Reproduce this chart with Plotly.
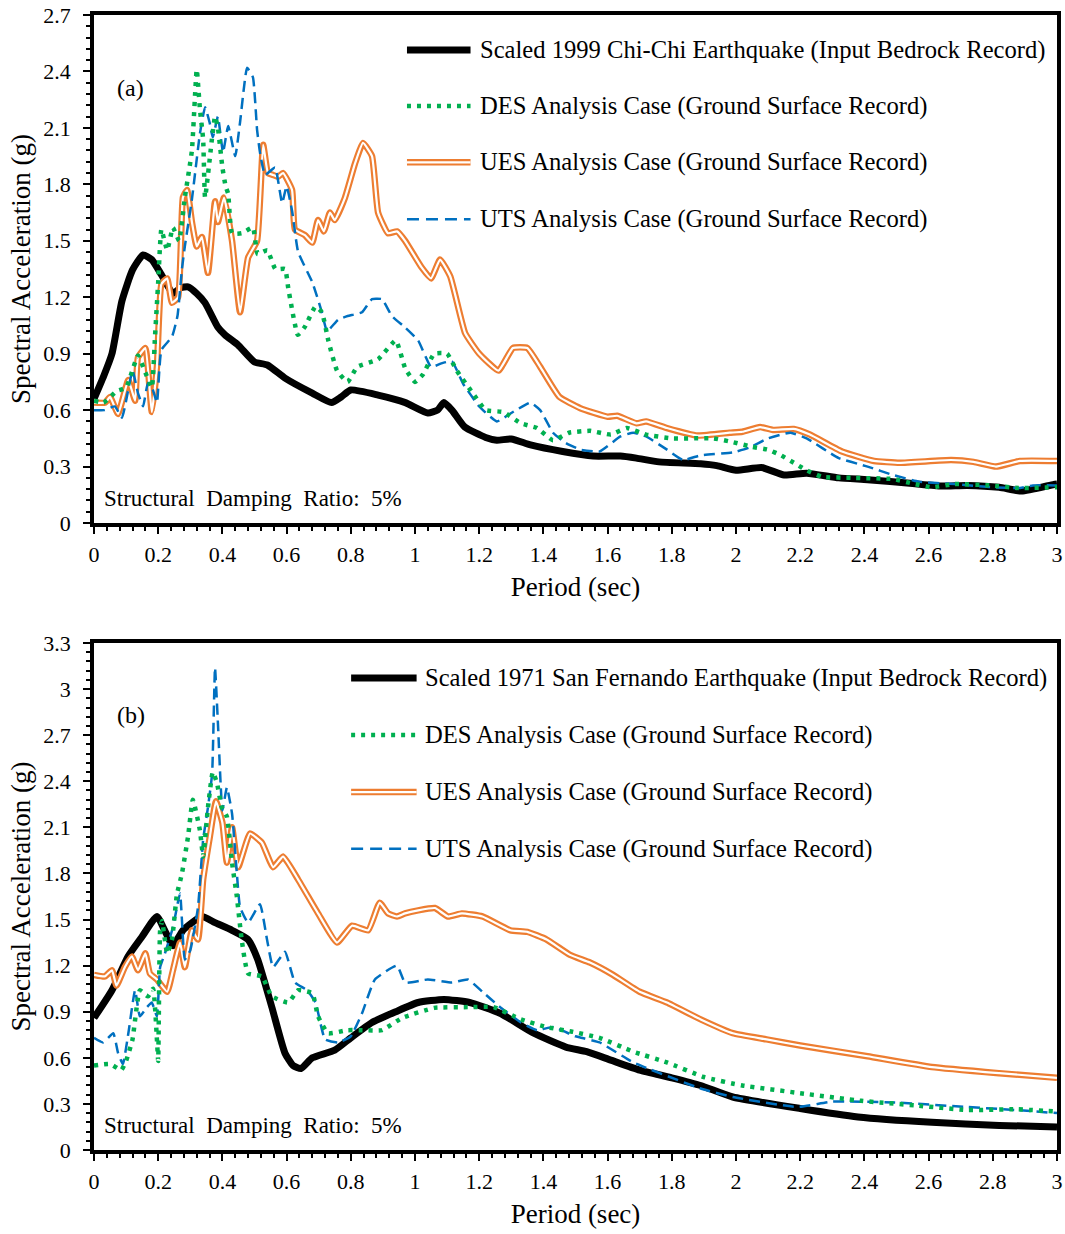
import plotly.graph_objects as go

# ---------------- (a) 1999 Chi-Chi ----------------
chichi_T = [0.0, 0.03, 0.056, 0.087, 0.12, 0.153, 0.18, 0.21, 0.246, 0.27, 0.293, 0.32, 0.346, 0.386,
            0.408, 0.449, 0.50, 0.54, 0.595, 0.68, 0.74, 0.77, 0.80, 0.885, 0.97, 1.04, 1.07, 1.09,
            1.115, 1.155, 1.22, 1.255, 1.30, 1.36, 1.46, 1.555, 1.64, 1.69, 1.76, 1.89, 1.94, 2.0,
            2.08, 2.15, 2.22, 2.32, 2.41, 2.55, 2.64, 2.72, 2.82, 2.89, 2.99, 3.0]
chichi_input = [0.66, 0.78, 0.90, 1.18, 1.345, 1.425, 1.40, 1.32, 1.22, 1.25, 1.255, 1.22, 1.17, 1.04,
                1.00, 0.946, 0.856, 0.84, 0.77, 0.69, 0.64, 0.67, 0.707, 0.68, 0.64, 0.585, 0.60, 0.64,
                0.60, 0.51, 0.455, 0.44, 0.447, 0.415, 0.38, 0.356, 0.356, 0.345, 0.325, 0.315, 0.305, 0.28,
                0.295, 0.255, 0.265, 0.24, 0.23, 0.21, 0.197, 0.20, 0.19, 0.17, 0.205, 0.207]

chichi_des_T = [0.0, 0.03, 0.07, 0.1, 0.137, 0.16, 0.18, 0.19, 0.2, 0.21, 0.228, 0.246, 0.265, 0.283,
                0.305, 0.32, 0.33, 0.34, 0.346, 0.368, 0.377, 0.386, 0.40, 0.41, 0.418, 0.43, 0.46,
                0.495, 0.51, 0.54, 0.565, 0.595, 0.605, 0.635, 0.656, 0.69, 0.71, 0.73, 0.757, 0.79,
                0.82, 0.885, 0.94, 0.97, 1.0, 1.025, 1.06, 1.1, 1.13, 1.18, 1.22, 1.275, 1.33, 1.38,
                1.43, 1.48, 1.545, 1.61, 1.66, 1.72, 1.80, 1.93, 1.99, 2.05, 2.10, 2.14, 2.19, 2.22,
                2.27, 2.36, 2.49, 2.55, 2.61, 2.68, 2.79, 2.88, 3.0]
chichi_des = [0.65, 0.64, 0.70, 0.72, 0.89, 0.80, 0.72, 0.99, 1.28, 1.56, 1.45, 1.57, 1.50, 1.73,
              1.98, 2.41, 2.20, 2.04, 1.73, 2.05, 2.16, 2.10, 1.89, 1.79, 1.75, 1.54, 1.54,
              1.57, 1.43, 1.45, 1.35, 1.35, 1.25, 1.00, 1.04, 1.15, 1.12, 0.97, 0.81, 0.75,
              0.83, 0.87, 0.97, 0.82, 0.75, 0.79, 0.90, 0.90, 0.81, 0.69, 0.60, 0.59, 0.53, 0.505,
              0.44, 0.48, 0.49, 0.47, 0.505, 0.47, 0.45, 0.45, 0.43, 0.405, 0.39, 0.36, 0.31, 0.28,
              0.245, 0.24, 0.234, 0.21, 0.19, 0.207, 0.20, 0.186, 0.19]

chichi_ues_T = [0.0, 0.035, 0.05, 0.075, 0.107, 0.128, 0.137, 0.16, 0.18, 0.196, 0.21, 0.228, 0.243,
                0.262, 0.277, 0.29, 0.305, 0.32, 0.336, 0.355, 0.377, 0.386, 0.405, 0.43, 0.455, 0.48,
                0.508, 0.527, 0.542, 0.558, 0.573, 0.589, 0.617, 0.626, 0.657, 0.68, 0.698, 0.716,
                0.735, 0.75, 0.782, 0.813, 0.838, 0.866, 0.885, 0.916, 0.944, 0.969, 1.02, 1.05,
                1.078, 1.11, 1.156, 1.2, 1.26, 1.305, 1.35, 1.39, 1.45, 1.515, 1.60, 1.63, 1.69, 1.72,
                1.785, 1.88, 1.98, 2.02, 2.075, 2.115, 2.18, 2.23, 2.33, 2.43, 2.51, 2.67, 2.74, 2.81,
                2.885, 3.0]
chichi_ues = [0.64, 0.64, 0.67, 0.58, 0.76, 0.65, 0.88, 0.93, 0.59, 0.83, 1.27, 1.30, 1.17,
              1.20, 1.73, 1.77, 1.60, 1.47, 1.52, 1.33, 1.71, 1.60, 1.73, 1.50, 1.12, 1.41,
              1.50, 2.01, 1.86, 1.85, 1.84, 1.86, 1.77, 1.56, 1.53, 1.49, 1.61, 1.55,
              1.65, 1.61, 1.73, 1.91, 2.02, 1.95, 1.65, 1.54, 1.55, 1.50, 1.36, 1.30,
              1.40, 1.31, 1.01, 0.90, 0.81, 0.93, 0.93, 0.83, 0.67, 0.61, 0.565, 0.57, 0.53, 0.54,
              0.505, 0.465, 0.48, 0.485, 0.51, 0.495, 0.50, 0.47, 0.38, 0.33, 0.32, 0.335, 0.325, 0.30,
              0.33, 0.33]

chichi_uts_T = [0.0, 0.033, 0.065, 0.087, 0.12, 0.137, 0.153, 0.168, 0.183, 0.196, 0.21, 0.243, 0.26,
                0.274, 0.283, 0.305, 0.33, 0.346, 0.36, 0.37, 0.386, 0.402, 0.418, 0.44, 0.455, 0.477,
                0.495, 0.508, 0.517, 0.533, 0.564, 0.586, 0.60, 0.617, 0.636, 0.68, 0.71, 0.726, 0.76,
                0.79, 0.835, 0.866, 0.897, 0.928, 0.969, 1.01, 1.05, 1.085, 1.115, 1.15, 1.2, 1.255,
                1.305, 1.36, 1.39, 1.43, 1.47, 1.515, 1.575, 1.64, 1.68, 1.72, 1.785, 1.835, 1.89,
                1.99, 2.04, 2.10, 2.17, 2.22, 2.32, 2.41, 2.49, 2.57, 2.68, 2.80, 2.885, 2.925, 3.0]
chichi_uts = [0.60, 0.60, 0.62, 0.56, 0.81, 0.69, 0.62, 0.745, 0.71, 0.64, 0.92, 0.99, 1.10,
              1.35, 1.47, 1.72, 2.07, 2.21, 2.13, 2.05, 2.16, 1.97, 2.11, 1.95, 2.13, 2.42,
              2.37, 2.09, 1.97, 1.85, 1.89, 1.70, 1.79, 1.66, 1.44, 1.28, 1.12, 1.02, 1.08,
              1.10, 1.12, 1.19, 1.19, 1.10, 1.04, 0.97, 0.83, 0.85, 0.86, 0.74, 0.62, 0.54,
              0.59, 0.64, 0.60, 0.48, 0.425, 0.39, 0.38, 0.46, 0.48, 0.46, 0.39, 0.335, 0.36,
              0.375, 0.40, 0.45, 0.48, 0.45, 0.345, 0.30, 0.255, 0.22, 0.207, 0.19, 0.186, 0.20, 0.20]

# ---------------- (b) 1971 San Fernando ----------------
sf_T = [0.0, 0.056, 0.106, 0.15, 0.196, 0.22, 0.246, 0.277, 0.336, 0.377, 0.43, 0.48, 0.51, 0.554,
        0.595, 0.62, 0.645, 0.68, 0.75, 0.80, 0.866, 0.94, 1.01, 1.09, 1.17, 1.265, 1.37, 1.47,
        1.535, 1.61, 1.70, 1.80, 1.89, 1.99, 2.2, 2.38, 2.61, 2.82, 3.0]
sf_input = [0.86, 1.04, 1.26, 1.39, 1.52, 1.43, 1.33, 1.43, 1.52, 1.48, 1.43, 1.37, 1.24, 0.93,
            0.63, 0.55, 0.53, 0.60, 0.65, 0.73, 0.83, 0.90, 0.96, 0.98, 0.96, 0.89, 0.76, 0.67,
            0.64, 0.585, 0.52, 0.47, 0.42, 0.345, 0.27, 0.215, 0.18, 0.16, 0.15]

sf_des_T = [0.0, 0.05, 0.085, 0.1, 0.12, 0.143, 0.168, 0.184, 0.196, 0.2, 0.206, 0.212, 0.228, 0.243,
            0.258, 0.274, 0.293, 0.308, 0.33, 0.34, 0.355, 0.37, 0.383, 0.398, 0.414, 0.43, 0.445,
            0.46, 0.48, 0.523, 0.554, 0.605, 0.636, 0.68, 0.698, 0.729, 0.79, 0.835, 0.897, 0.96,
            1.06, 1.165, 1.245, 1.33, 1.41, 1.49, 1.575, 1.68, 1.785, 1.9, 2.02, 2.2, 2.39, 2.56,
            2.72, 2.875, 3.0]
sf_des = [0.55, 0.56, 0.52, 0.58, 0.72, 1.04, 1.00, 1.05, 0.72, 0.58, 1.43, 1.49, 1.28, 1.37,
          1.66, 1.80, 2.04, 2.28, 2.08, 1.91, 2.23, 2.46, 2.39, 2.23, 2.17, 1.87, 1.65,
          1.37, 1.15, 1.13, 1.00, 0.96, 1.04, 1.02, 0.87, 0.76, 0.78, 0.78, 0.78, 0.86,
          0.925, 0.93, 0.93, 0.85, 0.80, 0.77, 0.73, 0.64, 0.57, 0.475, 0.42, 0.37, 0.32, 0.29,
          0.26, 0.265, 0.25]

sf_ues_T = [0.0, 0.034, 0.056, 0.07, 0.096, 0.118, 0.137, 0.16, 0.174, 0.196, 0.228, 0.246, 0.268,
            0.283, 0.305, 0.324, 0.34, 0.361, 0.38, 0.4, 0.414, 0.43, 0.449, 0.486, 0.523, 0.558,
            0.589, 0.636, 0.698, 0.757, 0.804, 0.854, 0.89, 0.916, 0.944, 0.969, 1.01, 1.062, 1.103,
            1.146, 1.21, 1.297, 1.35, 1.41, 1.483, 1.545, 1.617, 1.70, 1.785, 1.89, 1.99, 2.095,
            2.2, 2.41, 2.61, 2.82, 3.0]
sf_ues = [1.14, 1.13, 1.17, 1.07, 1.19, 1.26, 1.17, 1.28, 1.15, 1.11, 1.03, 1.17, 1.35,
          1.19, 1.43, 1.37, 1.76, 2.04, 2.27, 2.13, 1.87, 2.10, 1.84, 2.06, 2.00, 1.84,
          1.91, 1.76, 1.54, 1.35, 1.46, 1.43, 1.61, 1.54, 1.52, 1.54, 1.56, 1.575, 1.52,
          1.54, 1.52, 1.43, 1.42, 1.37, 1.27, 1.22, 1.14, 1.03, 0.96, 0.85, 0.76, 0.72,
          0.68, 0.61, 0.54, 0.50, 0.47]

sf_uts_T = [0.0, 0.028, 0.06, 0.075, 0.09, 0.107, 0.128, 0.143, 0.165, 0.18, 0.196, 0.206, 0.221,
            0.246, 0.268, 0.283, 0.30, 0.324, 0.34, 0.355, 0.368, 0.377, 0.386, 0.40, 0.414, 0.43,
            0.445, 0.455, 0.48, 0.517, 0.539, 0.558, 0.595, 0.626, 0.664, 0.69, 0.72, 0.76, 0.80,
            0.835, 0.875, 0.944, 0.969, 1.04, 1.115, 1.165, 1.21, 1.265, 1.33, 1.38, 1.43, 1.5,
            1.575, 1.68, 1.89, 1.99, 2.19, 2.3, 2.49, 2.72, 2.875, 3.0]
sf_uts = [0.73, 0.70, 0.76, 0.63, 0.56, 0.76, 1.04, 0.87, 0.93, 0.96, 0.87, 1.19, 1.28,
          1.45, 1.67, 1.24, 1.30, 1.58, 2.02, 2.23, 2.45, 3.14, 2.78, 2.21, 2.36, 2.19,
          1.80, 1.58, 1.48, 1.60, 1.37, 1.19, 1.29, 1.09, 1.04, 0.96, 0.72, 0.70, 0.74,
          0.89, 1.11, 1.20, 1.09, 1.11, 1.09, 1.11, 1.03, 0.93, 0.83, 0.78, 0.80, 0.74,
          0.70, 0.57, 0.40, 0.345, 0.28, 0.315, 0.31, 0.28, 0.26, 0.24]

legend_a = ["Scaled 1999 Chi-Chi Earthquake (Input Bedrock Record)",
            "DES Analysis Case (Ground Surface Record)",
            "UES Analysis Case (Ground Surface Record)",
            "UTS Analysis Case (Ground Surface Record)"]
legend_b = ["Scaled 1971 San Fernando Earthquake (Input Bedrock Record)",
            "DES Analysis Case (Ground Surface Record)",
            "UES Analysis Case (Ground Surface Record)",
            "UTS Analysis Case (Ground Surface Record)"]

x_ticks = [0, 0.2, 0.4, 0.6, 0.8, 1, 1.2, 1.4, 1.6, 1.8, 2, 2.2, 2.4, 2.6, 2.8, 3]

FONT = "Liberation Serif, Times New Roman, serif"
BLACK = "#000000"
GREEN = "#00B050"
ORANGE = "#ED7D31"
BLUE = "#0070C0"

fig = go.Figure()


def add_panel(xa, ya, T_in, v_in, T_des, v_des, T_ues, v_ues, T_uts, v_uts):
    common = dict(mode="lines", xaxis=xa, yaxis=ya, showlegend=False, hoverinfo="skip")
    fig.add_trace(go.Scatter(x=T_in, y=v_in, line=dict(color=BLACK, width=7,
                                                     shape="spline", smoothing=0.5), **common))
    # double orange line: thick orange stroke with a thin white core
    fig.add_trace(go.Scatter(x=T_ues, y=v_ues, line=dict(color=ORANGE, width=6.5,
                                                       shape="spline", smoothing=0.4), **common))
    fig.add_trace(go.Scatter(x=T_ues, y=v_ues, line=dict(color="white", width=2.2,
                                                       shape="spline", smoothing=0.4), **common))
    fig.add_trace(go.Scatter(x=T_uts, y=v_uts, line=dict(color=BLUE, width=2.5, dash="11px,6px",
                                                       shape="spline", smoothing=0.4), **common))
    fig.add_trace(go.Scatter(x=T_des, y=v_des, line=dict(color=GREEN, width=4.5, dash="4px,6px",
                                                       shape="spline", smoothing=0.4), **common))


add_panel("x", "y", chichi_T, chichi_input, chichi_des_T, chichi_des,
          chichi_ues_T, chichi_ues, chichi_uts_T, chichi_uts)
add_panel("x2", "y2", sf_T, sf_input, sf_des_T, sf_des,
          sf_ues_T, sf_ues, sf_uts_T, sf_uts)

axis_common = dict(showline=True, linecolor="black", linewidth=3.5, mirror=True,
                   ticks="outside", ticklen=7, tickwidth=2, tickcolor="black",
                   showgrid=False, zeroline=False, automargin=False,
                   tickfont=dict(family=FONT, size=22, color="black"))

x_common = dict(axis_common, range=[0, 3], tickvals=x_ticks, ticklabelstandoff=2,
                minor=dict(dtick=0.04, tick0=0, ticks="outside", ticklen=4, tickwidth=2,
                           tickcolor="black", showgrid=False),
                title=dict(text="Period (sec)", font=dict(family=FONT, size=27, color="black"),
                           standoff=12))
y_common = dict(axis_common, dtick=0.3, tick0=0, ticklabelstandoff=8,
                minor=dict(dtick=0.06, tick0=0, ticks="outside", ticklen=4, tickwidth=2,
                           tickcolor="black", showgrid=False),
                title=dict(text="Spectral Acceleration (g)",
                           font=dict(family=FONT, size=27, color="black"), standoff=6))

fig.update_layout(
    width=1065, height=1234,
    margin=dict(l=94, r=8, t=15, b=84),
    paper_bgcolor="white", plot_bgcolor="white",
    xaxis=dict(x_common, domain=[0, 1], anchor="y"),
    yaxis=dict(y_common, domain=[0.5524, 1], range=[0, 2.7], anchor="x"),
    xaxis2=dict(x_common, domain=[0, 1], anchor="y2"),
    yaxis2=dict(y_common, domain=[0, 0.4467], range=[0, 3.3], anchor="x2"),
)

# hand-built legends with long line samples
styles = [
    [dict(color=BLACK, width=7)],
    [dict(color=GREEN, width=4.5, dash="4px,6px")],
    [dict(color=ORANGE, width=6.5), dict(color="white", width=2.2)],
    [dict(color=BLUE, width=2.5, dash="12px,7px")],
]


def add_legend(xa, ya, labels, rows, x0, x1, xt):
    for label, yy, sty in zip(labels, rows, styles):
        for s in sty:
            fig.add_shape(type="line", xref=xa + " domain", yref=ya + " domain",
                          x0=x0, x1=x1, y0=yy, y1=yy, line=s)
        fig.add_annotation(xref=xa + " domain", yref=ya + " domain", x=xt, y=yy,
                           text=label, showarrow=False, xanchor="left", yanchor="middle",
                           font=dict(family=FONT, size=24.6, color="black"))


add_legend("x", "y", legend_a, [0.931, 0.821, 0.710, 0.598], 0.325, 0.391, 0.399)
add_legend("x2", "y2", legend_b, [0.931, 0.8185, 0.706, 0.594], 0.267, 0.335, 0.342)

for xa, ya, tag in [("x", "y", "(a)"), ("x2", "y2", "(b)")]:
    fig.add_annotation(xref=xa + " domain", yref=ya + " domain", x=0.0384, y=0.857,
                       text=tag, showarrow=False, xanchor="center", yanchor="middle",
                       font=dict(family=FONT, size=24, color="black"))
    fig.add_annotation(xref=xa + " domain", yref=ya + " domain", x=0.0083, y=0.049,
                       text="Structural  Damping  Ratio:  5%", showarrow=False,
                       xanchor="left", yanchor="middle",
                       font=dict(family=FONT, size=23, color="black"))

fig.write_html("out.html")
